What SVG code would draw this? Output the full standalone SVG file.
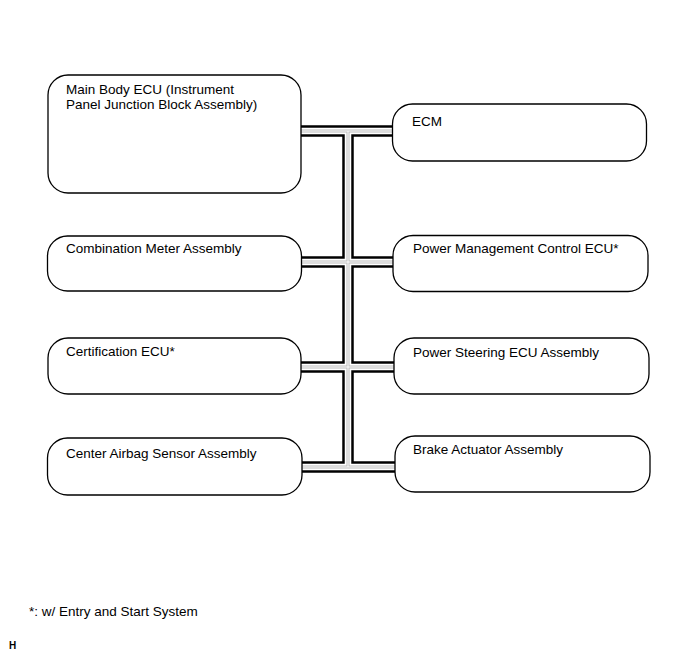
<svg xmlns="http://www.w3.org/2000/svg" width="689" height="659" viewBox="0 0 689 659">
<style>
.box{fill:#fff;stroke:#000;stroke-width:1.3}
.t{font-family:"Liberation Sans",Arial,sans-serif;font-size:13.5px;fill:#000}
.b1{fill:none;stroke:#000;stroke-width:11.5}
.b2{fill:none;stroke:#fff;stroke-width:6.5}
.b3{fill:none;stroke:#bbb;stroke-width:3}
.b4{fill:none;stroke:#fff;stroke-width:1}
</style>
<rect width="689" height="659" fill="#fff"/>
<g id="connectors">
<g class="b1">
<path d="M301,131H393M301,262H393M301,367H394M301,467H395M348,131V467"/>
</g>
<g class="b2">
<path d="M301,131H393M301,262H393M301,367H394M301,467H395M348,131V467"/>
</g>
<g class="b3">
<path d="M301,131H393M301,262H393M301,367H394M301,467H395M348,131V467"/>
</g>
<g class="b4">
<path d="M301,131H393M301,262H393M301,367H394M301,467H395M348,131V467"/>
</g>
</g>
<g id="main-body-ecu">
<rect class="box" x="48" y="75" width="253" height="118" rx="20"/>
<text class="t" x="66" y="94">Main Body ECU (Instrument</text>
<text class="t" x="66" y="109">Panel Junction Block Assembly)</text>
</g>
<g id="ecm">
<rect class="box" x="392.5" y="104" width="254" height="57" rx="20"/>
<text class="t" x="412" y="126">ECM</text>
</g>
<g id="combination-meter">
<rect class="box" x="47.5" y="236" width="254" height="55" rx="20"/>
<text class="t" x="66" y="253">Combination Meter Assembly</text>
</g>
<g id="power-management">
<rect class="box" x="393" y="235.5" width="255" height="56" rx="20"/>
<text class="t" x="413" y="253">Power Management Control ECU*</text>
</g>
<g id="certification-ecu">
<rect class="box" x="48" y="338" width="253" height="56" rx="20"/>
<text class="t" x="66" y="356">Certification ECU*</text>
</g>
<g id="power-steering">
<rect class="box" x="394" y="338" width="255" height="56" rx="20"/>
<text class="t" x="413" y="357">Power Steering ECU Assembly</text>
</g>
<g id="center-airbag">
<rect class="box" x="47.5" y="438" width="254.5" height="57" rx="20"/>
<text class="t" x="66" y="458">Center Airbag Sensor Assembly</text>
</g>
<g id="brake-actuator">
<rect class="box" x="395" y="436" width="255" height="56" rx="20"/>
<text class="t" x="413" y="454">Brake Actuator Assembly</text>
</g>
<text class="t" x="29" y="616">*: w/ Entry and Start System</text>
<text x="9" y="649" style="font-family:'Liberation Sans',Arial,sans-serif;font-size:10px;font-weight:bold">H</text>
</svg>
